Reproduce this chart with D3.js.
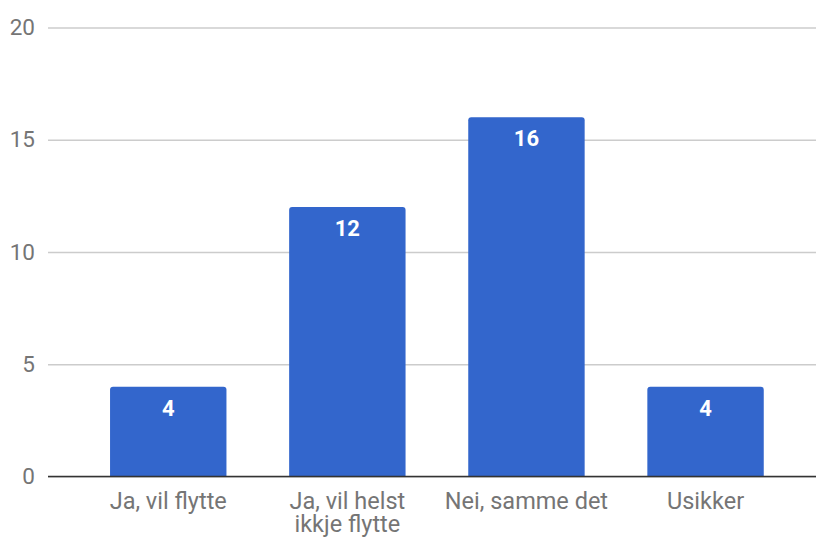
<!DOCTYPE html>
<html>
<head>
<meta charset="utf-8">
<script src="https://cdn.jsdelivr.net/npm/d3@7"></script>
<style>
  body { margin: 0; background: #fff; }
  svg text { font-family: Roboto, "Noto Sans", Arial, sans-serif; }
</style>
</head>
<body>
<script>
// answers and counts
var categories = ["Ja, vil flytte", "Ja, vil helst ikkje flytte", "Nei, samme det", "Usikker"];
var counts = [4, 12, 16, 4];
var yTicks = [0, 5, 10, 15, 20];

var width = 816, height = 537;

var svg = d3.select("body").append("svg")
    .attr("width", width)
    .attr("height", height);

var x = d3.scaleBand()
    .domain(categories)
    .range([78.7, 795.1])
    .paddingInner(0.35)
    .paddingOuter(0.175);

var y = d3.scaleLinear()
    .domain([0, 20])
    .range([476.5, 27.5]);

// gridlines + y labels
var yAxis = d3.axisLeft(y)
    .tickValues(yTicks)
    .tickSize(-(width - 48))
    .tickPadding(13);

var gy = svg.append("g")
    .attr("transform", "translate(48,0)")
    .call(yAxis);
gy.select(".domain").remove();
gy.selectAll(".tick line").attr("stroke", "#cccccc").attr("stroke-width", 1.3);
gy.selectAll(".tick text")
    .attr("fill", "#757575")
    .attr("font-size", "22.5px");

// bars
svg.append("g").selectAll("path")
    .data(counts)
    .enter().append("path")
    .attr("fill", "#3366cc")
    .attr("d", function(d, i) {
        var x0 = x(categories[i]), w = x.bandwidth();
        var top = y(d), bot = y(0), r = 3;
        return "M" + x0 + "," + bot +
            "V" + (top + r) +
            "Q" + x0 + "," + top + " " + (x0 + r) + "," + top +
            "H" + (x0 + w - r) +
            "Q" + (x0 + w) + "," + top + " " + (x0 + w) + "," + (top + r) +
            "V" + bot + "Z";
    });

// value labels
svg.append("g").selectAll("text")
    .data(counts)
    .enter().append("text")
    .attr("x", function(d, i) { return x(categories[i]) + x.bandwidth() / 2; })
    .attr("y", function(d) { return y(d) + 29; })
    .attr("text-anchor", "middle")
    .attr("fill", "#ffffff")
    .attr("font-size", "22px")
    .attr("font-weight", "bold")
    .text(function(d) { return d; });

// baseline
svg.append("line")
    .attr("x1", 48).attr("x2", width)
    .attr("y1", y(0)).attr("y2", y(0))
    .attr("stroke", "#333333")
    .attr("stroke-width", 1.5);

// x axis labels
var xAxis = d3.axisBottom(x).tickSize(0).tickPadding(0);
var gx = svg.append("g")
    .attr("transform", "translate(0," + y(0) + ")")
    .call(xAxis);
gx.select(".domain").remove();
gx.selectAll(".tick text")
    .attr("fill", "#757575")
    .attr("font-size", "23.5px")
    .attr("y", 0)
    .attr("dy", 0)
    .call(wrap, x.step());

// split into two balanced lines when a label is wider than maxW
function wrap(texts, maxW) {
    texts.each(function() {
        var t = d3.select(this);
        var full = t.text();
        var words = full.split(/\s+/);
        var lines = [full];
        if (this.getComputedTextLength() > maxW && words.length > 1) {
            var best = 1, bestDiff = Infinity;
            for (var k = 1; k < words.length; k++) {
                var a = words.slice(0, k).join(" "), b = words.slice(k).join(" ");
                var diff = Math.abs(a.length - b.length);
                if (diff < bestDiff) { bestDiff = diff; best = k; }
            }
            lines = [words.slice(0, best).join(" "), words.slice(best).join(" ")];
        }
        t.text(null);
        lines.forEach(function(l, k) {
            t.append("tspan")
                .attr("x", 0)
                .attr("y", 32 + k * 23.5)
                .text(l);
        });
    });
}
</script>
</body>
</html>
